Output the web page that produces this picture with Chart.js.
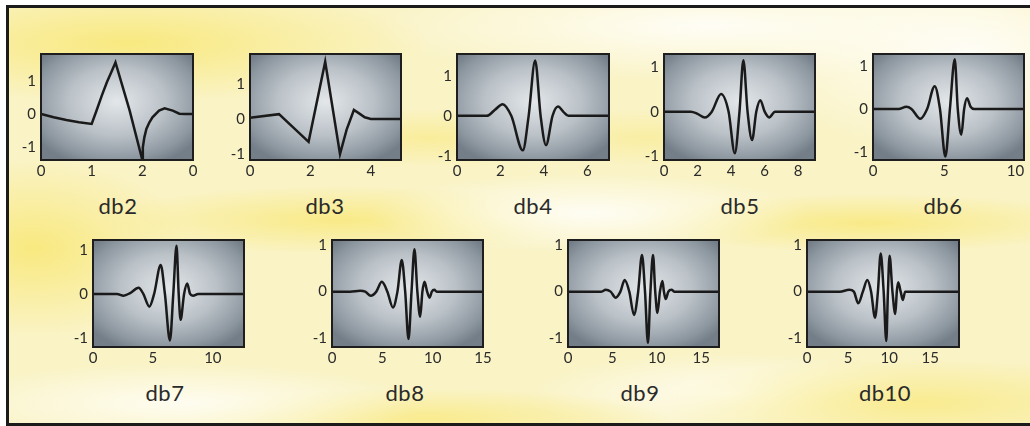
<!DOCTYPE html>
<html><head><meta charset="utf-8">
<script src="https://cdn.jsdelivr.net/npm/chart.js@4.4.1/dist/chart.umd.min.js"></script>
<style>
html,body{margin:0;padding:0;width:1030px;height:426px;overflow:hidden;background:#fff;}
#bg{position:absolute;left:6px;top:5px;width:1040px;height:415px;border-left:3px solid #1b1b1b;border-top:3px solid #1b1b1b;border-bottom:3px solid #1b1b1b;
background-color:#faf3c6;
background-image:
 radial-gradient(ellipse 300px 60px at 120px 35px, rgba(248,232,120,0.9), rgba(248,232,120,0)),
 radial-gradient(ellipse 340px 55px at 700px 18px, rgba(255,254,248,0.95), rgba(255,254,248,0)),
 radial-gradient(ellipse 230px 100px at 960px 45px, rgba(255,254,248,0.95), rgba(255,254,248,0)),
 radial-gradient(ellipse 220px 40px at 580px 205px, rgba(255,254,248,0.9), rgba(255,254,248,0)),
 radial-gradient(ellipse 240px 35px at 330px 212px, rgba(248,232,120,0.8), rgba(248,232,120,0)),
 radial-gradient(ellipse 160px 90px at 25px 240px, rgba(248,232,120,0.9), rgba(248,232,120,0)),
 radial-gradient(ellipse 240px 30px at 860px 215px, rgba(248,232,120,0.8), rgba(248,232,120,0)),
 radial-gradient(ellipse 260px 45px at 910px 395px, rgba(248,232,120,0.7), rgba(248,232,120,0)),
 radial-gradient(ellipse 240px 40px at 170px 395px, rgba(255,254,248,0.85), rgba(255,254,248,0)),
 radial-gradient(ellipse 240px 30px at 420px 410px, rgba(248,232,120,0.7), rgba(248,232,120,0)),
 radial-gradient(ellipse 200px 40px at 720px 385px, rgba(255,254,248,0.8), rgba(255,254,248,0)),
 radial-gradient(ellipse 180px 30px at 420px 130px, rgba(248,232,120,0.55), rgba(248,232,120,0)),
 radial-gradient(ellipse 140px 30px at 640px 130px, rgba(248,232,120,0.45), rgba(248,232,120,0));}
#stage{position:absolute;left:0;top:0;width:1030px;height:426px;}
.lbl{position:absolute;font-family:Lato,"Open Sans",sans-serif;font-size:22px;line-height:22px;letter-spacing:0.5px;color:#2a2a2a;transform:translateX(-50%);white-space:nowrap;}
</style></head>
<body>
<div id="bg"></div>
<div id="stage"></div>
<script>
// ---- data ----
const yTicks = [-1, 0, 1];

const db2Ticks = [0, 1, 2, 3];
const db2TickLabels = ['0', '1', '2', '0'];
const db2X = [0, 0.25, 0.5, 0.75, 1.0, 1.1, 1.2, 1.3, 1.4, 1.47, 1.75, 2.0, 2.01, 2.04, 2.08, 2.14, 2.2, 2.33, 2.44, 2.6, 2.73, 2.85, 3.0];
const db2Y = [0.0, -0.1, -0.18, -0.25, -0.3, 0.12, 0.55, 0.95, 1.3, 1.55, 0.1, -1.38, -1.0, -0.7, -0.45, -0.25, -0.1, 0.1, 0.17, 0.1, 0.01, 0.0, 0.0];

const db3Ticks = [0, 2, 4];
const db3X = [0, 0.96, 1.94, 2.49, 2.98, 3.2, 3.44, 3.6, 3.8, 4.0, 5.0];
const db3Y = [0.04, 0.14, -0.65, 1.64, -1.0, -0.3, 0.26, 0.17, 0.05, 0.0, 0.0];

const db4Ticks = [0, 2, 4, 6];
const db4X = [0, 1.37, 1.75, 2.1, 2.5, 3.03, 3.3, 3.6, 3.85, 4.1, 4.4, 4.65, 4.9, 5.13, 7];
const db4Y = [0, 0, 0.15, 0.29, 0, -0.86, 0, 1.38, 0, -0.73, 0, 0.23, 0.1, 0, 0];

const db5Ticks = [0, 2, 4, 6, 8];
const db5X = [0, 1.6, 2.0, 2.43, 2.85, 3.4, 3.85, 4.22, 4.5, 4.73, 4.98, 5.25, 5.5, 5.74, 6.0, 6.27, 6.62, 9];
const db5Y = [0, 0, -0.05, -0.13, 0, 0.4, 0, -0.94, 0, 1.16, 0, -0.64, 0, 0.26, 0, -0.13, 0, 0];

const db6Ticks = [0, 5, 10];
const db6X = [0, 1.8, 2.34, 2.7, 3.32, 3.8, 4.33, 4.7, 5.08, 5.4, 5.74, 5.95, 6.2, 6.4, 6.6, 6.85, 7.1, 10.6];
const db6Y = [0, 0, 0.05, 0, -0.23, 0, 0.53, 0, -1.11, 0, 1.16, 0, -0.6, 0, 0.25, 0.05, 0, 0];

const db7Ticks = [0, 5, 10];
const db7X = [0, 2.0, 2.55, 3.1, 3.8, 4.2, 4.7, 5.1, 5.65, 6.0, 6.42, 6.7, 6.97, 7.15, 7.31, 7.6, 7.86, 8.1, 8.35, 8.77, 12.6];
const db7Y = [0, 0, -0.04, 0.02, 0.14, 0, -0.29, 0, 0.66, 0, -1.06, 0, 1.1, 0, -0.59, 0, 0.24, 0, -0.04, 0, 0];

const db8Ticks = [0, 5, 10, 15];
const db8X = [0, 1.8, 2.8, 3.3, 3.85, 4.4, 4.95, 5.5, 6.05, 6.5, 6.93, 7.27, 7.6, 7.9, 8.19, 8.48, 8.76, 8.98, 9.19, 9.45, 9.69, 9.92, 10.16, 10.4, 15];
const db8Y = [0, 0, 0.02, 0, -0.09, 0, 0.21, 0, -0.34, 0, 0.68, 0, -1.02, 0, 0.91, 0, -0.54, 0, 0.21, 0, -0.13, 0, 0.04, 0, 0];

const db9Ticks = [0, 5, 10, 15];
const db9X = [0, 3.76, 4.24, 4.8, 5.37, 5.9, 6.38, 6.9, 7.43, 7.9, 8.33, 8.67, 9.0, 9.28, 9.57, 9.82, 10.07, 10.35, 10.63, 10.8, 11.0, 11.3, 11.65, 12.0, 17];
const db9Y = [0, 0, 0.04, 0, -0.13, 0, 0.25, 0, -0.5, 0, 0.79, 0, -1.1, 0, 0.79, 0, -0.46, 0, 0.23, 0, -0.16, 0, 0.04, 0, 0];

const db10Ticks = [0, 5, 10, 15];
const db10X = [0, 4.0, 5.13, 5.7, 6.24, 6.8, 7.34, 7.8, 8.28, 8.63, 8.97, 9.33, 9.65, 9.85, 10.05, 10.4, 10.75, 10.93, 11.1, 11.4, 11.66, 11.95, 18.5];
const db10Y = [0, 0, 0.04, 0, -0.25, 0, 0.25, 0, -0.56, 0, 0.82, 0, -1.06, 0, 0.77, 0, -0.48, 0, 0.2, 0, -0.18, 0, 0];

// ---- panel layout (positions/ranges) ----
const panels = [
  {name:'db2',  xs:db2X,  ys:db2Y,  ticks:db2Ticks,  labels:db2TickLabels, xMax:3,    yMin:-1.38, yMax:1.8,  box:[41,54,152,106],  smooth:false, lx:118, ly:195},
  {name:'db3',  xs:db3X,  ys:db3Y,  ticks:db3Ticks,  xMax:5,    yMin:-1.17, yMax:1.86, box:[250,54,151,106], smooth:false, lx:325, ly:195},
  {name:'db4',  xs:db4X,  ys:db4Y,  ticks:db4Ticks,  xMax:7,    yMin:-1.1,  yMax:1.54, box:[457,54,152,106], smooth:true,  lx:533, ly:195},
  {name:'db5',  xs:db5X,  ys:db5Y,  ticks:db5Ticks,  xMax:9,    yMin:-1.09, yMax:1.3,  box:[664,54,151,106], smooth:true,  lx:740, ly:195},
  {name:'db6',  xs:db6X,  ys:db6Y,  ticks:db6Ticks,  xMax:10.6, yMin:-1.19, yMax:1.28, box:[873,54,151,106], smooth:true,  lx:943, ly:195},
  {name:'db7',  xs:db7X,  ys:db7Y,  ticks:db7Ticks,  xMax:12.6, yMin:-1.21, yMax:1.23, box:[93,240,151,107], smooth:true,  lx:165, ly:382},
  {name:'db8',  xs:db8X,  ys:db8Y,  ticks:db8Ticks,  xMax:15,   yMin:-1.19, yMax:1.11, box:[332,240,151,107], smooth:true, lx:405, ly:382},
  {name:'db9',  xs:db9X,  ys:db9Y,  ticks:db9Ticks,  xMax:17,   yMin:-1.19, yMax:1.11, box:[568,240,151,107], smooth:true, lx:640, ly:382},
  {name:'db10', xs:db10X, ys:db10Y, ticks:db10Ticks, xMax:18.5, yMin:-1.19, yMax:1.11, box:[807,240,152,107], smooth:true, lx:885, ly:382}
];

const panelFrame = {
  id:'panelFrame',
  beforeDatasetsDraw(chart){
    const {ctx, chartArea:a} = chart;
    const w = a.right - a.left, h = a.bottom - a.top;
    ctx.save();
    ctx.beginPath(); ctx.rect(a.left, a.top, w, h); ctx.clip();
    ctx.translate(a.left + w*0.5, a.top + h*0.45);
    ctx.scale(1, h/w);
    const g = ctx.createRadialGradient(0,0,0,0,0,w*0.64);
    g.addColorStop(0,'#e3e7ea');
    g.addColorStop(0.5,'#bac1c7');
    g.addColorStop(0.85,'#8d97a0');
    g.addColorStop(1,'#737e88');
    ctx.fillStyle = g;
    ctx.fillRect(-w/2, -0.45*w, w, w);
    ctx.restore();
  },
  afterDatasetsDraw(chart){
    const {ctx, chartArea:a} = chart;
    ctx.save();
    ctx.strokeStyle = '#1e1e1e';
    ctx.lineWidth = 2;
    ctx.strokeRect(a.left, a.top, a.right - a.left, a.bottom - a.top);
    ctx.restore();
  }
};

const W = 32, H = 24, T = 10, R = 14;
const stage = document.getElementById('stage');
const tickFont = {family:'Lato', size:15};

panels.forEach(p => {
  const [bx, by, bw, bh] = p.box;
  const c = document.createElement('canvas');
  c.width = W + bw + R; c.height = T + bh + H;
  c.style.cssText = `position:absolute;left:${bx-W}px;top:${by-T}px;width:${W+bw+R}px;height:${T+bh+H}px;`;
  stage.appendChild(c);
  const lbl = document.createElement('div');
  lbl.className = 'lbl'; lbl.textContent = p.name;
  lbl.style.left = p.lx + 'px'; lbl.style.top = p.ly + 'px';
  stage.appendChild(lbl);

  new Chart(c, {
    type:'line',
    data:{datasets:[{
      data: p.xs.map((x, i) => ({x, y: p.ys[i]})),
      borderColor:'#1a1a1a', borderWidth:2.5, pointRadius:0, fill:false,
      tension: p.smooth ? 0.4 : 0,
      cubicInterpolationMode: p.smooth ? 'monotone' : 'default'
    }]},
    options:{
      responsive:false, animation:false, devicePixelRatio:1,
      layout:{padding:{top:T, right:R, left:0, bottom:0}},
      plugins:{legend:{display:false}, tooltip:{enabled:false}},
      scales:{
        x:{type:'linear', min:0, max:p.xMax,
          grid:{display:false, drawTicks:false}, border:{display:false},
          ticks:{padding:2, color:'#2b2b2b', font:tickFont, autoSkip:false, maxRotation:0,
            callback:(v, i) => p.labels ? p.labels[i] : String(p.ticks[i])},
          afterBuildTicks:s => { s.ticks = p.ticks.map(v => ({value:v})); },
          afterFit:s => { s.height = H; s.paddingLeft = 0; s.paddingRight = 0; }
        },
        y:{type:'linear', min:p.yMin, max:p.yMax,
          grid:{display:false, drawTicks:false}, border:{display:false},
          ticks:{padding:5, color:'#2b2b2b', font:tickFont, autoSkip:false,
            callback:(v, i) => String(yTicks[i])},
          afterBuildTicks:s => { s.ticks = yTicks.map(v => ({value:v})); },
          afterFit:s => { s.width = W; s.paddingTop = 0; s.paddingBottom = 0; }
        }
      }
    },
    plugins:[panelFrame]
  });
});
</script>
</body></html>
